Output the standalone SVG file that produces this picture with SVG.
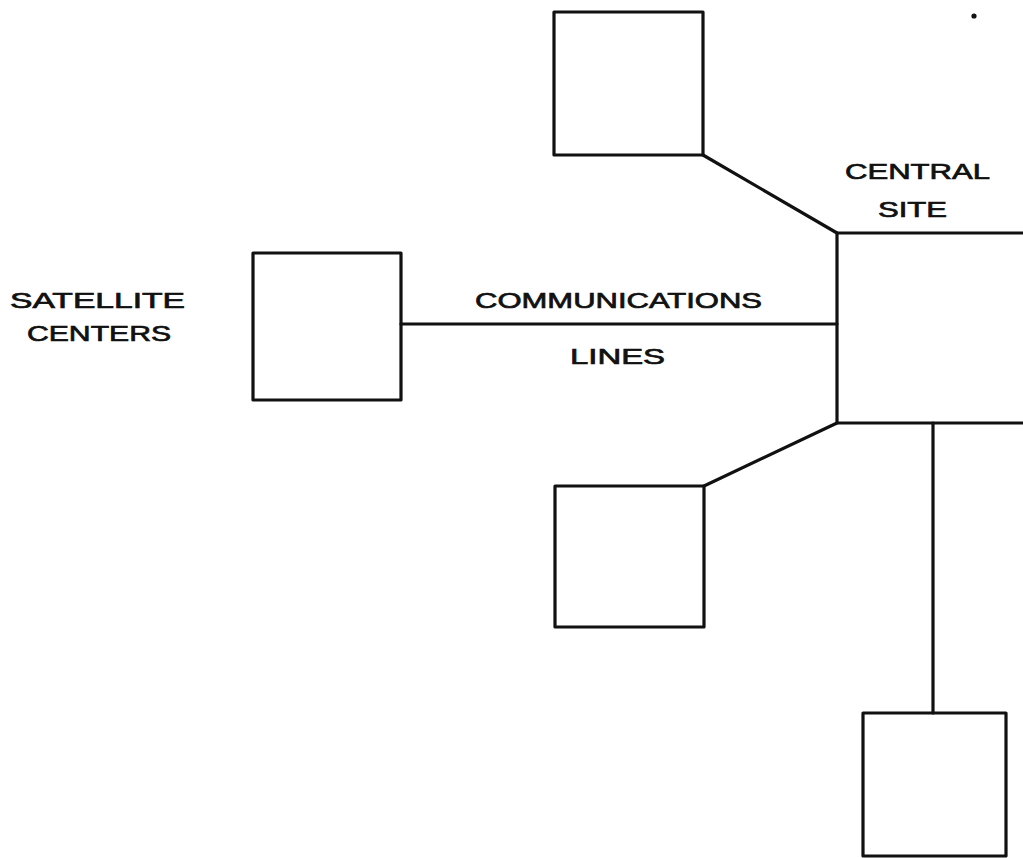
<svg xmlns="http://www.w3.org/2000/svg" width="1023" height="858" viewBox="0 0 1023 858">
  <style>
    .box { fill: none; stroke: #111; stroke-width: 3.2; stroke-linejoin: round; }
    .line { fill: none; stroke: #111; stroke-width: 3.2; stroke-linecap: round; }
    .label { font-family: "Liberation Sans", Arial, sans-serif; font-size: 22px; fill: #111; stroke: #111; stroke-width: 0.7; }
  </style>
  <rect width="1023" height="858" fill="#fff"/>

  <!-- communications lines -->
  <g id="connectors">
    <line class="line" x1="703" y1="155" x2="837" y2="233"/>
    <line class="line" x1="401" y1="324" x2="837" y2="324"/>
    <line class="line" x1="704" y1="486" x2="837" y2="423"/>
    <line class="line" x1="933" y1="423" x2="933" y2="713"/>
  </g>

  <!-- central site: open on the right edge -->
  <g id="central-site">
    <path class="box" d="M1023,233 H837 V423 H1023"/>
    <text class="label" x="845" y="179" textLength="145" lengthAdjust="spacingAndGlyphs">CENTRAL</text>
    <text class="label" x="878" y="217" textLength="69" lengthAdjust="spacingAndGlyphs">SITE</text>
  </g>

  <g id="satellite-top">
    <rect class="box" x="554" y="12" width="149" height="143"/>
  </g>

  <g id="satellite-left">
    <rect class="box" x="253" y="253" width="148" height="147"/>
    <text class="label" x="10" y="308" textLength="175" lengthAdjust="spacingAndGlyphs">SATELLITE</text>
    <text class="label" x="27" y="341" textLength="144" lengthAdjust="spacingAndGlyphs">CENTERS</text>
  </g>

  <g id="satellite-lower">
    <rect class="box" x="555" y="486" width="149" height="141"/>
  </g>

  <g id="satellite-bottom">
    <rect class="box" x="863" y="713" width="143" height="143"/>
  </g>

  <g id="line-label">
    <text class="label" x="475" y="308" textLength="287" lengthAdjust="spacingAndGlyphs">COMMUNICATIONS</text>
    <text class="label" x="570" y="364" textLength="95" lengthAdjust="spacingAndGlyphs">LINES</text>
  </g>

  <circle cx="974" cy="16" r="2.6" fill="#111"/>
</svg>
